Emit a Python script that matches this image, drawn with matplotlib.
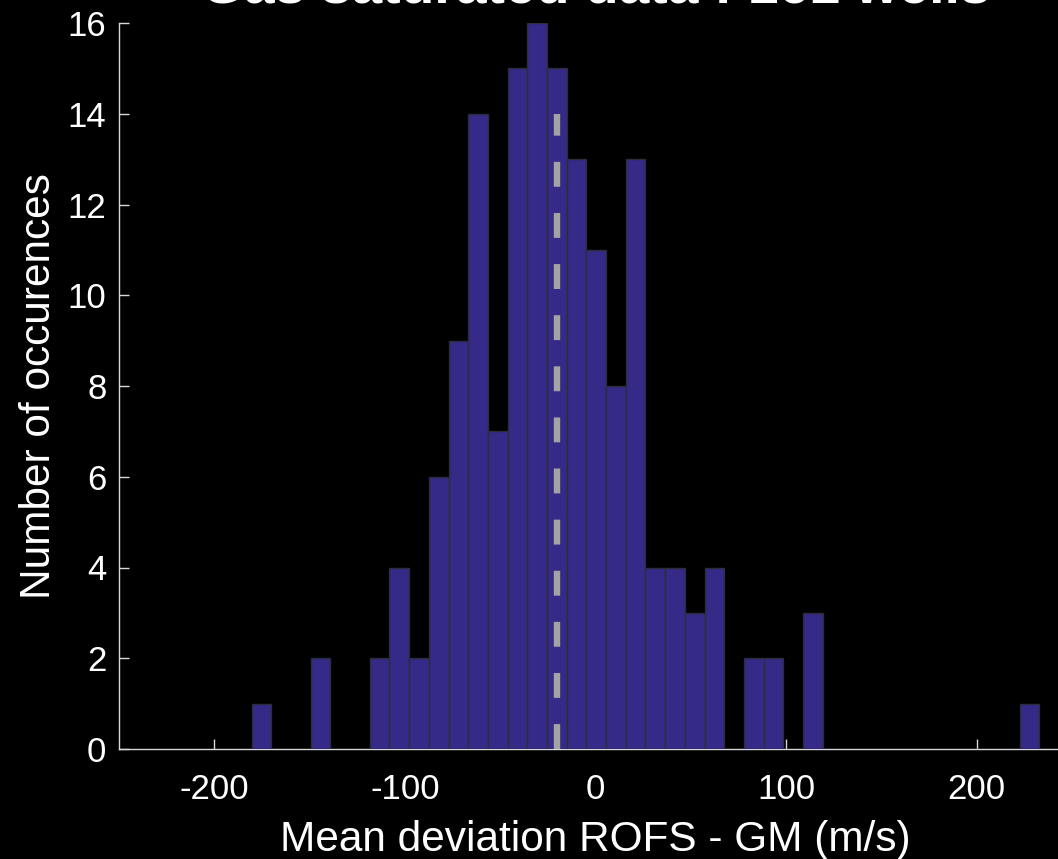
import numpy as np
import matplotlib
matplotlib.use("Agg")
import matplotlib.pyplot as plt

plt.rcParams["font.family"] = ["Liberation Sans", "DejaVu Sans"]

# histogram of mean velocity deviation, 40 equal bins between min and max
bin_start = -180.4
bin_stop = 232.8
n_bins = 40
counts = [1, 0, 0, 2, 0, 0, 2, 4, 2, 6,
          9, 14, 7, 15, 16, 15, 13, 11, 8, 13,
          4, 4, 3, 4, 0, 2, 2, 0, 3, 0,
          0, 0, 0, 0, 0, 0, 0, 0, 0, 1]
mean_dev = -20.0
mean_line_top = 14

title = "Gas saturated data : 161 wells"
xlabel = "Mean deviation ROFS - GM (m/s)"
ylabel = "Number of occurences"
xticks = [-200, -100, 0, 100, 200]
yticks = [0, 2, 4, 6, 8, 10, 12, 14, 16]

W, H = 1058, 859
fig = plt.figure(figsize=(W / 100, H / 100), dpi=100, facecolor="black")
# axes run off the right edge of the figure
ax = fig.add_axes([119 / W, 110 / H, 953 / W, 726 / H], facecolor="black")

edges = np.linspace(bin_start, bin_stop, n_bins + 1)
ax.bar(edges[:-1], counts, width=np.diff(edges), align="edge",
       color="#352a87", edgecolor="#2c2c3a", linewidth=1.0, zorder=3)

ax.plot([mean_dev, mean_dev], [0, mean_line_top], color="#a3a3a3",
        linewidth=4.6, linestyle=(0, (3.9, 4.1)), solid_capstyle="butt",
        dash_capstyle="butt", zorder=4)

ax.set_xlim(-250, 250)
ax.set_ylim(0, 16)
ax.set_xticks(xticks)
ax.set_yticks(yticks)
ax.set_xticklabels([str(t) for t in xticks])

for side in ("top", "right"):
    ax.spines[side].set_visible(False)
for side in ("left", "bottom"):
    ax.spines[side].set_color("#d8d8d8")
    ax.spines[side].set_linewidth(1.0)
    ax.spines[side].set_zorder(2.5)

ax.tick_params(direction="in", length=7, width=1.0, color="#d8d8d8",
               labelcolor="white", labelsize=25)
ax.tick_params(axis="x", pad=17)
ax.tick_params(axis="y", pad=9)

ax.set_xlabel(xlabel, color="white", fontsize=30.5, labelpad=10)
ax.set_ylabel(ylabel, color="white", fontsize=30.5, labelpad=6)
ax.set_title(title, color="white", fontsize=39.8, fontweight="bold", pad=15)

fig.savefig("out.png", dpi=100, facecolor="black")
